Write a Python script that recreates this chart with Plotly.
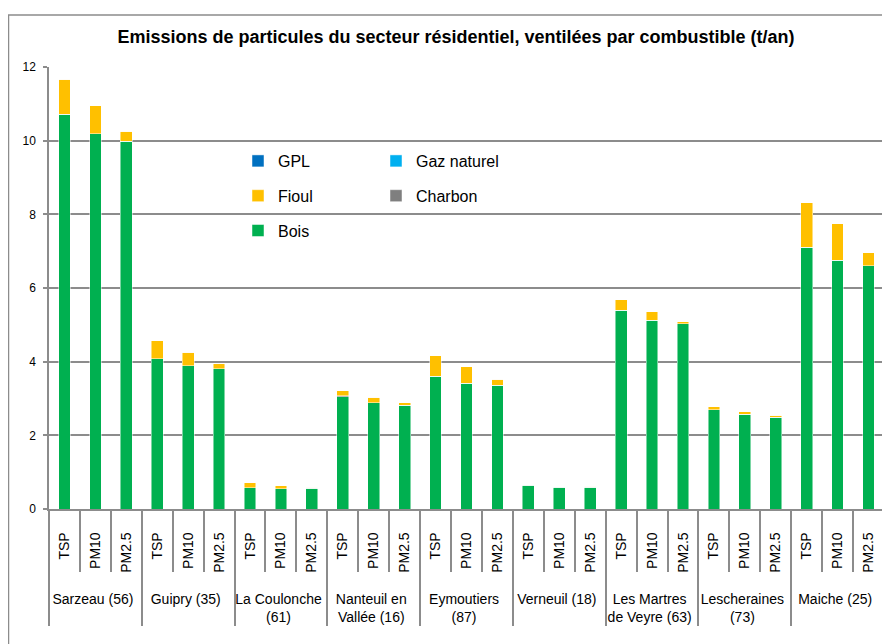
import plotly.graph_objects as go

groups = ["Sarzeau (56)", "Guipry (35)", "La Coulonche<br>(61)", "Nanteuil en<br>Vallée (16)",
          "Eymoutiers<br>(87)", "Verneuil (18)", "Les Martres<br>de Veyre (63)",
          "Lescheraines<br>(73)", "Maiche (25)"]
polluants = ["TSP", "PM10", "PM2.5"]

bois = [10.72, 10.19, 9.98, 4.08, 3.89, 3.81, 0.58, 0.55, 0.56,
        3.05, 2.89, 2.82, 3.61, 3.42, 3.36, 0.64, 0.59, 0.59,
        5.39, 5.12, 5.03, 2.70, 2.57, 2.49, 7.10, 6.75, 6.61]
charbon = [0, 0, 0, 0, 0, 0, 0, 0, 0,
           0.02, 0, 0, 0, 0, 0, 0, 0, 0,
           0, 0, 0, 0, 0, 0, 0, 0, 0]
fioul = [0.95, 0.76, 0.28, 0.49, 0.37, 0.14, 0.13, 0.08, 0.03,
         0.14, 0.14, 0.06, 0.55, 0.44, 0.16, 0.02, 0.02, 0.03,
         0.29, 0.24, 0.06, 0.08, 0.07, 0.05, 1.21, 0.99, 0.35]
gaz = [0] * 27
gpl = [0] * 27

yticks = [0, 2, 4, 6, 8, 10, 12]

# leading no-break spaces only pad the rotated labels so the town row sits lower
PAD = "\u00a0" * 5
x_outer = [g for g in groups for _ in polluants]
x_inner = [PAD + p for _ in groups for p in polluants]
x = [x_outer, x_inner]

FONT = "Liberation Sans, Arial, sans-serif"

series = [
    ("Bois", bois, "#00B050", "legend", 3),
    ("Charbon", charbon, "#7F7F7F", "legend2", 2),
    ("Fioul", fioul, "#FFC000", "legend", 2),
    ("Gaz naturel", gaz, "#00B0F0", "legend2", 1),
    ("GPL", gpl, "#0070C0", "legend", 1),
]

fig = go.Figure()
for name, vals, col, lg, rank in series:
    fig.add_trace(go.Bar(
        x=x, y=vals, name=name, legend=lg, legendgroup=name, legendrank=rank,
        marker=dict(color=col, line=dict(color="rgba(255,255,255,0.6)", width=0.8)),
    ))

# page body has an 8px margin: figure sits at (8, 8) in the window
W, H = 882, 636
PL, PR, PT, PB = 49, 884, 67, 509  # plot area in window pixels
GRID = "#8C8C8C"


def px_x(v):
    return (v - PL) / (PR - PL)


def px_y(v):
    return (PB - v) / (PB - PT)


fig.update_layout(
    width=W, height=H,
    margin=dict(l=PL - 8, r=W - (PR - 8), t=PT - 8, b=H - (PB - 8)),
    barmode="stack", bargap=0.62,
    plot_bgcolor="white", paper_bgcolor="white",
    font=dict(family=FONT, size=14, color="black"),
    title=dict(text="<b>Emissions de particules du secteur résidentiel, ventilées par combustible (t/an)</b>",
               x=(456 - 8) / W, xanchor="center", y=1 - (37 - 8) / H, yanchor="middle",
               font=dict(family=FONT, size=18, color="black")),
    xaxis=dict(type="multicategory", tickangle=-90, ticks="outside", ticklen=61,
               tickcolor=GRID, tickwidth=1.5, automargin=False, ticklabelstandoff=16,
               showline=True, linecolor=GRID, linewidth=1.5,
               showdividers=True, dividercolor=GRID, dividerwidth=1.5,
               tickfont=dict(size=14), showgrid=False),
    yaxis=dict(range=[0, 12], tickvals=yticks, ticks="outside", ticklen=4,
               tickcolor=GRID, tickwidth=1.5, automargin=False, ticklabelstandoff=5,
               showline=True, linecolor=GRID, linewidth=1.5,
               showgrid=True, gridcolor=GRID, gridwidth=1.5, zeroline=False,
               tickfont=dict(size=12)),
    legend=dict(x=px_x(238), y=px_y(144), xanchor="left", yanchor="top",
                traceorder="grouped", tracegroupgap=11,
                font=dict(size=16), bgcolor="rgba(0,0,0,0)"),
    legend2=dict(x=px_x(376), y=px_y(144), xanchor="left", yanchor="top",
                 traceorder="grouped", tracegroupgap=11,
                 font=dict(size=16), bgcolor="rgba(0,0,0,0)"),
    shapes=[dict(type="rect", xref="paper", yref="paper",
                 x0=px_x(8.5), x1=1.2, y0=-0.5, y1=px_y(15),
                 line=dict(color=GRID, width=1.5), fillcolor="rgba(0,0,0,0)", layer="below")],
)

fig.write_html("out.html")
